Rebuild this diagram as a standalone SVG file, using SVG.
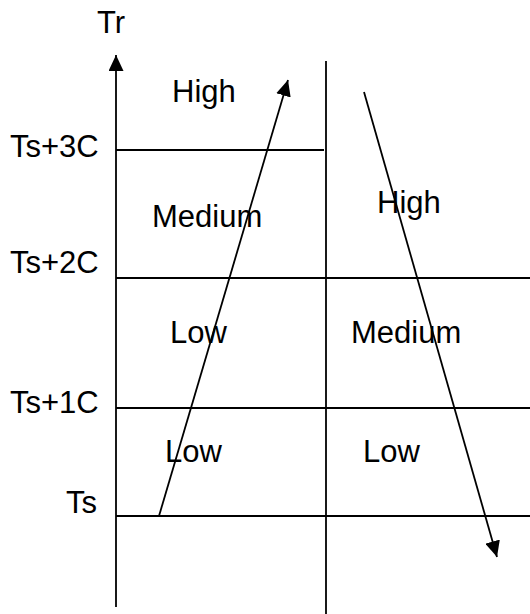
<svg xmlns="http://www.w3.org/2000/svg" width="530" height="614" viewBox="0 0 530 614">
<style>
text{font-family:"Liberation Sans",Arial,sans-serif;font-size:31px;fill:#000}
.ln{stroke:#000;stroke-width:1.8;fill:none}
</style>
<defs>
<marker id="ah" viewBox="0 0 16 15" refX="16" refY="7.5" markerWidth="16" markerHeight="15" markerUnits="userSpaceOnUse" orient="auto">
<path d="M0,0 L16,7.5 L0,15 Z" fill="#000"/>
</marker>
</defs>
<rect width="530" height="614" fill="#fff"/>
<g id="grid">
<line class="ln" x1="116" y1="607" x2="116" y2="55" marker-end="url(#ah)"/>
<line class="ln" x1="326" y1="61" x2="326" y2="614"/>
<line class="ln" x1="116" y1="150" x2="324" y2="150"/>
<line class="ln" x1="116" y1="278" x2="530" y2="278"/>
<line class="ln" x1="116" y1="408" x2="530" y2="408"/>
<line class="ln" x1="116" y1="516" x2="530" y2="516"/>
</g>
<g id="labels">
<text x="97" y="33">Tr</text>
<text x="10" y="157">Ts+3C</text>
<text x="10" y="273">Ts+2C</text>
<text x="10" y="413">Ts+1C</text>
<text x="66" y="513">Ts</text>
</g>
<g id="cells">
<text x="172" y="102">High</text>
<text x="152" y="227">Medium</text>
<text x="377" y="213">High</text>
<text x="170" y="343">Low</text>
<text x="351" y="343">Medium</text>
<text x="165" y="462">Low</text>
<text x="363" y="462">Low</text>
</g>
<g id="connectors">
<line class="ln" x1="159" y1="516" x2="288" y2="80" marker-end="url(#ah)"/>
<line class="ln" x1="364" y1="92" x2="497" y2="557" marker-end="url(#ah)"/>
</g>
</svg>
